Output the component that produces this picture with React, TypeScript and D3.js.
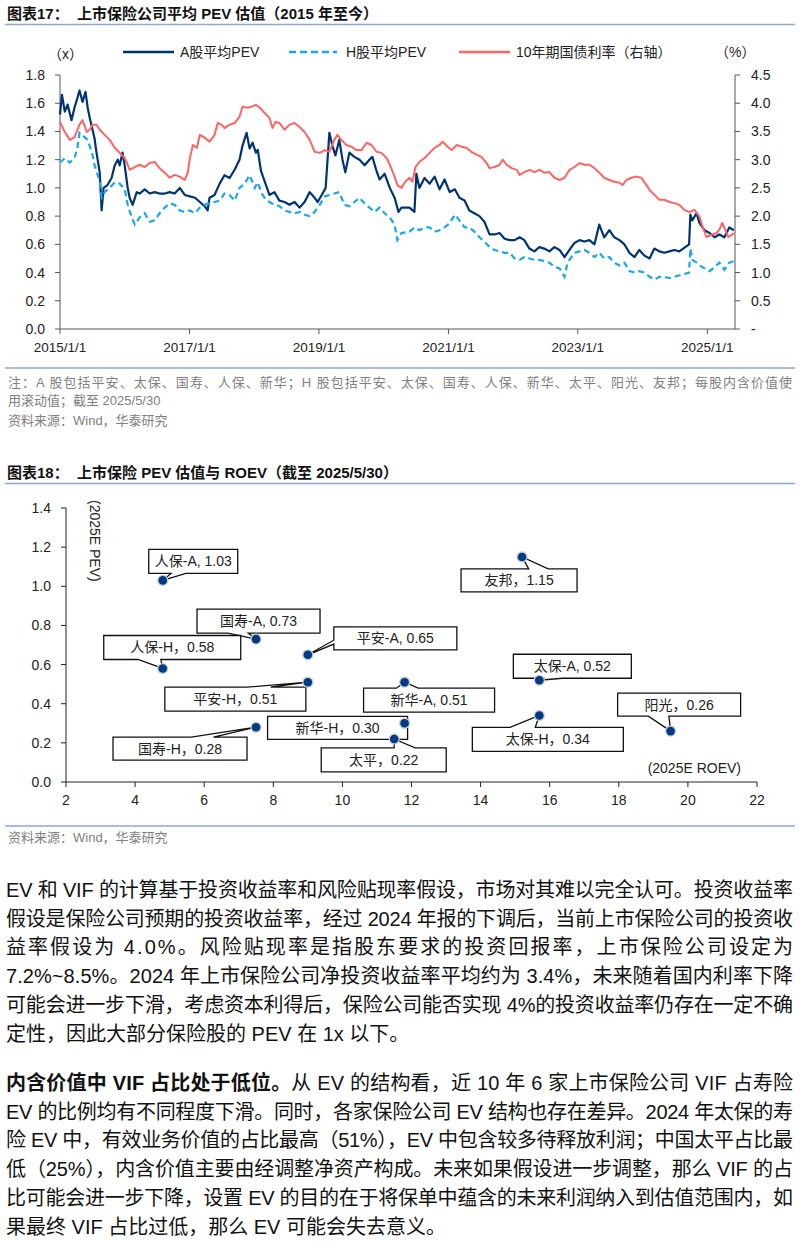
import React from 'react';
import * as d3 from 'd3';

// ---------- Chart 1 data ----------
const aDates = ['2015-01-01','2015-01-12','2015-01-28','2015-02-13','2015-03-07','2015-03-24','2015-04-10','2015-04-21','2015-05-08','2015-05-25','2015-06-06','2015-06-17','2015-07-04','2015-07-15','2015-07-26','2015-08-13','2015-08-24','2015-09-04','2015-09-26','2015-10-19','2015-11-06','2015-11-23','2015-12-04','2015-12-20','2016-01-01','2016-01-18','2016-01-29','2016-02-15','2016-03-09','2016-03-25','2016-04-23','2016-05-21','2016-06-18','2016-07-16','2016-08-14','2016-09-11','2016-10-09','2016-11-07','2016-12-05','2017-01-03','2017-02-01','2017-02-28','2017-03-27','2017-04-13','2017-04-24','2017-05-22','2017-06-20','2017-07-17','2017-08-15','2017-09-13','2017-10-10','2017-10-27','2017-11-19','2017-12-06','2017-12-23','2018-01-10','2018-01-21','2018-02-08','2018-02-28','2018-03-28','2018-04-25','2018-05-23','2018-06-21','2018-07-19','2018-08-17','2018-09-14','2018-10-12','2018-11-10','2018-12-08','2018-12-25','2019-01-17','2019-02-08','2019-03-01','2019-03-18','2019-04-04','2019-04-26','2019-05-14','2019-05-30','2019-06-22','2019-07-20','2019-08-18','2019-09-16','2019-10-13','2019-10-30','2019-11-22','2019-12-09','2020-01-07','2020-02-05','2020-03-03','2020-03-25','2020-04-11','2020-05-26','2020-06-23','2020-07-04','2020-07-21','2020-08-19','2020-09-17','2020-10-15','2020-11-12','2020-12-10','2021-01-08','2021-02-06','2021-03-04','2021-04-02','2021-04-29','2021-05-27','2021-06-25','2021-07-23','2021-08-21','2021-09-18','2021-10-16','2021-11-14','2021-12-12','2022-01-10','2022-02-07','2022-03-05','2022-04-03','2022-05-01','2022-05-29','2022-06-26','2022-07-25','2022-08-22','2022-09-20','2022-10-18','2022-11-15','2022-12-13','2023-01-11','2023-02-08','2023-03-07','2023-04-05','2023-05-02','2023-05-30','2023-06-28','2023-07-26','2023-08-24','2023-09-21','2023-10-19','2023-11-17','2023-12-14','2024-01-12','2024-02-10','2024-03-08','2024-04-05','2024-05-03','2024-06-01','2024-06-29','2024-07-27','2024-09-20','2024-09-27','2024-10-08','2024-11-01','2024-11-18','2024-12-16','2025-01-14','2025-02-11','2025-03-10','2025-04-07','2025-05-05','2025-05-30'];
const aValues = [1.52,1.66,1.54,1.59,1.48,1.57,1.64,1.69,1.61,1.68,1.57,1.50,1.41,1.35,1.25,1.11,0.84,1.00,1.02,1.07,1.16,1.20,1.16,1.25,1.16,1.00,0.93,0.88,0.97,0.96,0.99,0.96,0.97,0.96,0.96,0.97,0.96,1.00,0.95,0.94,0.93,0.90,0.87,0.84,0.93,0.95,1.03,1.09,1.07,1.13,1.20,1.30,1.39,1.28,1.32,1.25,1.27,1.12,1.05,0.95,0.97,0.91,0.90,0.88,0.90,0.86,0.90,0.97,0.93,0.90,0.95,1.00,1.39,1.30,1.23,1.34,1.20,1.11,1.25,1.22,1.20,1.16,1.20,1.22,1.12,1.06,1.10,1.00,0.93,0.83,0.86,0.86,0.83,1.10,1.00,1.07,1.03,1.08,0.99,1.06,0.97,0.99,0.93,0.91,0.84,0.82,0.80,0.76,0.67,0.67,0.68,0.64,0.63,0.63,0.65,0.63,0.57,0.55,0.58,0.57,0.55,0.58,0.56,0.51,0.56,0.61,0.63,0.62,0.63,0.60,0.74,0.65,0.70,0.65,0.63,0.60,0.54,0.51,0.56,0.52,0.50,0.57,0.55,0.54,0.55,0.56,0.55,0.60,0.81,0.77,0.82,0.75,0.70,0.68,0.65,0.67,0.65,0.72,0.70];

const hDates = ['2015-01-01','2015-01-28','2015-02-26','2015-03-24','2015-04-10','2015-04-21','2015-05-19','2015-06-06','2015-06-17','2015-07-04','2015-07-15','2015-08-02','2015-08-13','2015-08-24','2015-09-10','2015-10-08','2015-11-06','2015-12-04','2016-01-01','2016-01-18','2016-02-10','2016-02-27','2016-03-25','2016-04-23','2016-05-21','2016-06-18','2016-07-16','2016-08-14','2016-09-11','2016-10-09','2016-11-07','2016-12-05','2017-01-03','2017-02-01','2017-02-28','2017-03-27','2017-04-24','2017-05-22','2017-06-20','2017-07-17','2017-08-15','2017-09-13','2017-10-10','2017-11-08','2017-12-06','2018-01-04','2018-01-21','2018-02-13','2018-02-28','2018-03-28','2018-04-25','2018-05-23','2018-06-21','2018-07-19','2018-08-17','2018-09-14','2018-10-12','2018-11-10','2018-12-08','2019-01-06','2019-02-03','2019-03-01','2019-03-29','2019-04-26','2019-05-25','2019-06-22','2019-07-20','2019-08-18','2019-09-16','2019-10-13','2019-11-11','2019-12-09','2020-01-07','2020-02-05','2020-03-03','2020-03-19','2020-04-11','2020-05-26','2020-06-23','2020-07-21','2020-08-19','2020-09-17','2020-10-15','2020-11-12','2020-12-10','2021-01-08','2021-02-06','2021-03-04','2021-04-02','2021-04-29','2021-05-27','2021-06-25','2021-07-23','2021-08-21','2021-09-18','2021-10-16','2021-11-14','2021-12-12','2022-01-10','2022-02-07','2022-03-05','2022-04-03','2022-05-01','2022-05-29','2022-06-26','2022-07-25','2022-08-22','2022-09-20','2022-10-18','2022-11-04','2022-12-13','2023-01-11','2023-02-08','2023-03-07','2023-04-05','2023-05-02','2023-05-30','2023-06-28','2023-07-26','2023-08-24','2023-09-21','2023-10-19','2023-11-17','2023-12-14','2024-01-12','2024-02-10','2024-03-08','2024-04-05','2024-05-03','2024-06-01','2024-06-29','2024-09-20','2024-09-27','2024-10-08','2024-11-01','2024-11-18','2024-12-16','2025-01-14','2025-02-11','2025-03-10','2025-04-07','2025-05-05','2025-05-30'];
const hValues = [1.18,1.21,1.18,1.21,1.29,1.39,1.36,1.34,1.30,1.23,1.16,1.09,1.04,0.93,0.97,1.00,1.04,1.03,0.99,0.88,0.79,0.74,0.79,0.82,0.76,0.77,0.82,0.86,0.89,0.88,0.84,0.83,0.84,0.82,0.86,0.88,0.89,0.90,0.91,0.96,0.95,0.91,1.00,1.03,1.09,1.00,1.04,0.96,0.93,0.90,0.88,0.87,0.84,0.83,0.82,0.83,0.81,0.80,0.83,0.88,0.94,0.95,0.96,0.97,0.88,0.87,0.90,0.93,0.89,0.86,0.83,0.86,0.82,0.79,0.74,0.63,0.68,0.69,0.72,0.70,0.72,0.72,0.69,0.70,0.72,0.75,0.81,0.77,0.72,0.72,0.69,0.65,0.62,0.58,0.56,0.55,0.54,0.54,0.50,0.49,0.51,0.50,0.49,0.49,0.48,0.47,0.44,0.43,0.37,0.47,0.54,0.55,0.56,0.54,0.51,0.54,0.50,0.51,0.47,0.45,0.47,0.41,0.40,0.41,0.40,0.37,0.35,0.37,0.37,0.36,0.37,0.40,0.57,0.49,0.47,0.45,0.43,0.41,0.44,0.47,0.42,0.47,0.48];

const bondDates = ['2015-01-01','2015-01-28','2015-02-26','2015-03-24','2015-04-21','2015-05-08','2015-06-01','2015-06-17','2015-07-04','2015-07-26','2015-08-13','2015-09-10','2015-10-08','2015-11-06','2015-12-04','2016-01-01','2016-01-18','2016-01-29','2016-02-27','2016-03-25','2016-04-23','2016-05-21','2016-06-18','2016-07-16','2016-08-14','2016-09-11','2016-10-09','2016-11-07','2016-12-05','2016-12-22','2017-01-03','2017-01-20','2017-02-12','2017-02-28','2017-03-27','2017-04-24','2017-05-22','2017-06-09','2017-07-01','2017-07-17','2017-08-15','2017-09-13','2017-10-10','2017-10-27','2017-11-25','2017-12-17','2018-01-10','2018-02-02','2018-02-28','2018-03-28','2018-04-14','2018-05-01','2018-05-23','2018-06-21','2018-07-19','2018-08-17','2018-09-14','2018-10-12','2018-11-10','2018-12-08','2019-01-06','2019-02-03','2019-03-01','2019-03-29','2019-04-15','2019-05-08','2019-06-05','2019-07-03','2019-08-01','2019-08-29','2019-09-27','2019-10-25','2019-11-22','2019-12-20','2020-01-18','2020-02-05','2020-03-03','2020-03-19','2020-04-11','2020-04-28','2020-05-26','2020-06-12','2020-06-29','2020-07-21','2020-08-19','2020-09-17','2020-10-15','2020-11-12','2020-11-29','2020-12-27','2021-01-19','2021-02-17','2021-03-15','2021-04-13','2021-05-10','2021-06-08','2021-07-06','2021-08-04','2021-08-21','2021-09-18','2021-10-16','2021-11-03','2021-11-25','2021-12-23','2022-01-21','2022-02-07','2022-03-05','2022-04-03','2022-05-01','2022-05-29','2022-06-26','2022-07-25','2022-08-22','2022-09-20','2022-10-18','2022-11-15','2022-12-13','2023-01-11','2023-02-08','2023-03-07','2023-04-05','2023-05-02','2023-05-30','2023-06-28','2023-07-26','2023-08-24','2023-09-10','2023-10-02','2023-10-30','2023-11-28','2023-12-25','2024-01-23','2024-02-10','2024-03-08','2024-04-05','2024-05-03','2024-06-01','2024-06-29','2024-07-27','2024-08-24','2024-09-22','2024-10-20','2024-11-18','2024-12-05','2024-12-27','2025-01-25','2025-02-22','2025-03-10','2025-03-26','2025-04-12','2025-04-29','2025-05-21','2025-05-30'];
const bondValues = [3.67,3.49,3.35,3.40,3.62,3.70,3.49,3.53,3.62,3.62,3.53,3.44,3.35,3.21,3.12,3.03,2.91,2.82,2.87,2.91,2.87,2.94,2.96,2.85,2.77,2.68,2.73,2.70,2.64,2.77,3.03,3.26,3.21,3.44,3.39,3.32,3.44,3.65,3.62,3.56,3.62,3.65,3.76,3.94,3.92,3.94,3.97,3.92,3.83,3.74,3.56,3.67,3.65,3.53,3.62,3.65,3.58,3.49,3.35,3.14,3.12,3.17,3.14,3.35,3.44,3.35,3.26,3.23,3.17,3.17,3.30,3.26,3.14,3.12,3.03,2.91,2.70,2.55,2.50,2.59,2.68,2.61,2.87,2.96,3.03,3.12,3.21,3.26,3.32,3.23,3.17,3.26,3.23,3.21,3.14,3.09,3.05,2.94,2.85,2.87,2.91,3.00,2.91,2.85,2.82,2.73,2.78,2.82,2.78,2.82,2.77,2.78,2.68,2.64,2.68,2.82,2.87,2.94,2.91,2.91,2.85,2.77,2.68,2.64,2.61,2.59,2.55,2.64,2.68,2.70,2.68,2.55,2.46,2.38,2.29,2.29,2.25,2.23,2.20,2.11,2.07,2.11,1.99,1.81,1.63,1.67,1.70,1.76,1.88,1.76,1.63,1.67,1.70];

const xTickDates = ['2015-01-01','2017-01-01','2019-01-01','2021-01-01','2023-01-01','2025-01-01'];
const xTickLabels = ['2015/1/1','2017/1/1','2019/1/1','2021/1/1','2023/1/1','2025/1/1'];
const leftTicks = [0,0.2,0.4,0.6,0.8,1.0,1.2,1.4,1.6,1.8];
const rightTicks = [0,0.5,1.0,1.5,2.0,2.5,3.0,3.5,4.0,4.5];
const legendLabels = ['A股平均PEV','H股平均PEV','10年期国债利率（右轴）'];

// ---------- Chart 2 data ----------
const companies = ['人保-A','国寿-A','人保-H','平安-A','平安-H','新华-A','太保-A','友邦','阳光','太保-H','新华-H','太平','国寿-H'];
const roev = [4.8,7.5,4.8,9.0,9.0,11.8,15.7,15.2,19.5,15.7,11.8,11.5,7.5];
const pev = [1.03,0.73,0.58,0.65,0.51,0.51,0.52,1.15,0.26,0.34,0.30,0.22,0.28];
const seps = [', ',', ','，',', ','，',', ',', ','，','，','，','，','，','，'];
const scatterXTicks = [2,4,6,8,10,12,14,16,18,20,22];
const scatterYTicks = [0,0.2,0.4,0.6,0.8,1.0,1.2,1.4];

// callout box layout (pixel offsets from the point)
const calloutLayout = [
  { dx: -14, dy: -31, w: 89, h: 24, edge: 'bottom' },
  { dx: -59, dy: -30, w: 123, h: 24, edge: 'bottom' },
  { dx: -59, dy: -33, w: 137, h: 24, edge: 'bottom' },
  { dx: 26, dy: -28, w: 123, h: 23, edge: 'left' },
  { dx: -143, dy: 5, w: 141, h: 24, edge: 'top' },
  { dx: -41, dy: 6, w: 131, h: 24, edge: 'top' },
  { dx: -26, dy: -26, w: 118, h: 24, edge: 'bottom' },
  { dx: -61, dy: 12, w: 116, h: 23, edge: 'top' },
  { dx: -53, dy: -38, w: 123, h: 23, edge: 'bottom' },
  { dx: -67, dy: 12, w: 151, h: 24, edge: 'top' },
  { dx: -137, dy: -7, w: 140, h: 23, edge: 'none' },
  { dx: -73, dy: 9, w: 125, h: 24, edge: 'top' },
  { dx: -143, dy: 10, w: 134, h: 23, edge: 'top' },
];

// ---------- Text ----------
const title1 = '图表17：  上市保险公司平均 PEV 估值（2015 年至今）';
const title2 = '图表18：  上市保险 PEV 估值与 ROEV（截至 2025/5/30）';
const noteLines = [
  '注：A 股包括平安、太保、国寿、人保、新华；H 股包括平安、太保、国寿、人保、新华、太平、阳光、友邦；每股内含价值使',
  '用滚动值；截至 2025/5/30',
];
const sourceText = '资料来源：Wind，华泰研究';
const para1 = [
  'EV 和 VIF 的计算基于投资收益率和风险贴现率假设，市场对其难以完全认可。投资收益率',
  '假设是保险公司预期的投资收益率，经过 2024 年报的下调后，当前上市保险公司的投资收',
  '益率假设为 4.0%。风险贴现率是指股东要求的投资回报率，上市保险公司设定为',
  '7.2%~8.5%。2024 年上市保险公司净投资收益率平均约为 3.4%，未来随着国内利率下降',
  '可能会进一步下滑，考虑资本利得后，保险公司能否实现 4%的投资收益率仍存在一定不确',
  '定性，因此大部分保险股的 PEV 在 1x 以下。',
];
const para2Bold = '内含价值中 VIF 占比处于低位。';
const para2 = [
  '从 EV 的结构看，近 10 年 6 家上市保险公司 VIF 占寿险',
  'EV 的比例均有不同程度下滑。同时，各家保险公司 EV 结构也存在差异。2024 年太保的寿',
  '险 EV 中，有效业务价值的占比最高（51%），EV 中包含较多待释放利润；中国太平占比最',
  '低（25%），内含价值主要由经调整净资产构成。未来如果假设进一步调整，那么 VIF 的占',
  '比可能会进一步下降，设置 EV 的目的在于将保单中蕴含的未来利润纳入到估值范围内，如',
  '果最终 VIF 占比过低，那么 EV 可能会失去意义。',
];

const FONT = '"Liberation Sans", Arial, "Noto Sans CJK SC", sans-serif';
const parse = d3.timeParse('%Y-%m-%d');
const C_A = '#003372';
const C_H = '#1aa6e8';
const C_R = '#ff6464';
const RULE = '#8fa9d4';

function calloutPath(l: number, t: number, w: number, h: number, px: number, py: number, edge: string) {
  const r = l + w, b = t + h;
  const cx = l + w / 2, cy = t + h / 2;
  if (edge === 'bottom' || edge === 'top') {
    const f = px < cx ? [3 / 12, 5 / 12] : [7 / 12, 9 / 12];
    const b1 = l + w * f[0], b2 = l + w * f[1];
    if (edge === 'bottom') return `M${l},${t}L${r},${t}L${r},${b}L${b2},${b}L${px},${py}L${b1},${b}L${l},${b}Z`;
    return `M${l},${t}L${b1},${t}L${px},${py}L${b2},${t}L${r},${t}L${r},${b}L${l},${b}Z`;
  }
  if (edge === 'left' || edge === 'right') {
    const f = py < cy ? [3 / 12, 5 / 12] : [7 / 12, 9 / 12];
    const b1 = t + h * f[0], b2 = t + h * f[1];
    if (edge === 'left') return `M${l},${t}L${r},${t}L${r},${b}L${l},${b}L${l},${b2}L${px},${py}L${l},${b1}Z`;
    return `M${l},${t}L${r},${t}L${r},${b1}L${px},${py}L${r},${b2}L${r},${b}L${l},${b}Z`;
  }
  return `M${l},${t}L${r},${t}L${r},${b}L${l},${b}Z`;
}

function LineChart() {
  const x = d3.scaleTime().domain([parse('2015-01-01')!, parse('2025-06-06')!]).range([60, 735]);
  const yL = d3.scaleLinear().domain([0, 1.8]).range([329, 75]);
  const yR = d3.scaleLinear().domain([0, 4.5]).range([329, 75]);
  const mk = (ds: string[], vs: number[]) => ds.map((d, i) => [parse(d)!, vs[i]] as [Date, number]);
  const lineL = d3.line<[Date, number]>().x(d => x(d[0])).y(d => yL(d[1]));
  const lineR = d3.line<[Date, number]>().x(d => x(d[0])).y(d => yR(d[1]));
  const axisColor = '#555';
  return (
    <g fontFamily={FONT}>
      {/* legend */}
      <text x={48} y={59} fontSize={14} fill="#222">（x）</text>
      <line x1={123} x2={174} y1={52} y2={52} stroke={C_A} strokeWidth={2.5} />
      <text x={180} y={57} fontSize={14} fill="#222">{legendLabels[0]}</text>
      <line x1={289} x2={337} y1={52} y2={52} stroke={C_H} strokeWidth={2.5} strokeDasharray="7,4" />
      <text x={346} y={57} fontSize={14} fill="#222">{legendLabels[1]}</text>
      <line x1={459} x2={510} y1={52} y2={52} stroke={C_R} strokeWidth={2.5} />
      <text x={516} y={57} fontSize={14} fill="#222">{legendLabels[2]}</text>
      <text x={715} y={57} fontSize={14} fill="#222">（%）</text>

      {/* axes */}
      <line x1={60} x2={60} y1={75} y2={329} stroke={axisColor} />
      <line x1={735} x2={735} y1={75} y2={329} stroke={axisColor} />
      <line x1={60} x2={735} y1={329} y2={329} stroke={axisColor} />
      {leftTicks.map(t => (
        <g key={'l' + t}>
          <line x1={55} x2={60} y1={yL(t)} y2={yL(t)} stroke={axisColor} />
          <text x={45} y={yL(t) + 5} fontSize={14} textAnchor="end" fill="#222">{t.toFixed(1)}</text>
        </g>
      ))}
      {rightTicks.map(t => (
        <g key={'r' + t}>
          <line x1={735} x2={740} y1={yR(t)} y2={yR(t)} stroke={axisColor} />
          <text x={751} y={yR(t) + 5} fontSize={14} textAnchor="start" fill="#222">{t === 0 ? '-' : t.toFixed(1)}</text>
        </g>
      ))}
      {xTickDates.map((d, i) => (
        <g key={d}>
          <line x1={x(parse(d)!)} x2={x(parse(d)!)} y1={329} y2={334} stroke={axisColor} />
          <text x={x(parse(d)!)} y={352} fontSize={13.5} textAnchor="middle" fill="#222">{xTickLabels[i]}</text>
        </g>
      ))}

      {/* series */}
      <path d={lineL(mk(aDates, aValues))!} fill="none" stroke={C_A} strokeWidth={2.2} strokeLinejoin="round" />
      <path d={lineL(mk(hDates, hValues))!} fill="none" stroke={C_H} strokeWidth={2.2} strokeDasharray="6,4" />
      <path d={lineR(mk(bondDates, bondValues))!} fill="none" stroke={C_R} strokeWidth={2} strokeLinejoin="round" />
    </g>
  );
}

function ScatterChart() {
  const x = d3.scaleLinear().domain([2, 22]).range([66, 757]);
  const y = d3.scaleLinear().domain([0, 1.4]).range([782, 508]);
  const pts = companies.map((c, i) => ({ name: c, px: x(roev[i]), py: y(pev[i]), label: c + seps[i] + pev[i].toFixed(2), lay: calloutLayout[i] }));
  return (
    <g fontFamily={FONT}>
      <line x1={66} x2={66} y1={508} y2={782} stroke="#222" />
      <line x1={66} x2={757} y1={782} y2={782} stroke="#222" />
      {scatterYTicks.map(t => (
        <g key={'y' + t}>
          <line x1={61} x2={66} y1={y(t)} y2={y(t)} stroke="#222" />
          <text x={51} y={y(t) + 5} fontSize={14} textAnchor="end" fill="#222">{t.toFixed(1)}</text>
        </g>
      ))}
      {scatterXTicks.map(t => (
        <g key={'x' + t}>
          <line x1={x(t)} x2={x(t)} y1={782} y2={787} stroke="#222" />
          <text x={x(t)} y={805} fontSize={14} textAnchor="middle" fill="#222">{t}</text>
        </g>
      ))}
      <text transform="translate(90,500) rotate(90)" fontSize={14} fill="#222">(2025E PEV)</text>
      <text x={741} y={773} fontSize={14} textAnchor="end" fill="#222">(2025E ROEV)</text>
      {pts.map(p => {
        const l = p.px + p.lay.dx, t = p.py + p.lay.dy;
        return (
          <g key={p.name}>
            <path d={calloutPath(l, t, p.lay.w, p.lay.h, p.px, p.py, p.lay.edge)} fill="#fff" stroke="#111" strokeWidth={1.3} />
            <text x={l + p.lay.w / 2} y={t + p.lay.h / 2 + 5} fontSize={14} textAnchor="middle" fill="#222">{p.label}</text>
          </g>
        );
      })}
      {pts.map(p => (
        <g key={'d' + p.name}>
          <circle cx={p.px} cy={p.py} r={5.6} fill="#c5ccd8" />
          <circle cx={p.px} cy={p.py} r={4.3} fill="#003a80" />
        </g>
      ))}
    </g>
  );
}

export default function App() {
  const lineH = 28.7;
  return (
    <div style={{ position: 'absolute', left: 0, top: 0, background: '#fff' }}>
      <svg width={800} height={1241} viewBox="0 0 800 1241" style={{ display: 'block', background: '#fff' }}>
        {/* Chart 1 header */}
        <text x={7} y={19} fontFamily={FONT} fontSize={15} fontWeight="bold" fill="#111" xmlSpace="preserve">{title1}</text>
        <line x1={5} x2={795} y1={24.5} y2={24.5} stroke={RULE} strokeWidth={1.3} />
        <LineChart />
        <line x1={5} x2={795} y1={368} y2={368} stroke={RULE} strokeWidth={1.3} />
        <text x={8} y={387} fontFamily={FONT} fontSize={13} fill="#808080" textLength={784} lengthAdjust="spacing">{noteLines[0]}</text>
        <text x={8} y={405} fontFamily={FONT} fontSize={13} fill="#808080">{noteLines[1]}</text>
        <text x={8} y={425} fontFamily={FONT} fontSize={13} fill="#808080">{sourceText}</text>

        {/* Chart 2 header */}
        <text x={7} y={478} fontFamily={FONT} fontSize={15} fontWeight="bold" fill="#111" xmlSpace="preserve">{title2}</text>
        <line x1={5} x2={795} y1={483.5} y2={483.5} stroke={RULE} strokeWidth={1.3} />
        <ScatterChart />
        <line x1={5} x2={795} y1={826} y2={826} stroke={RULE} strokeWidth={1.3} />
        <text x={8} y={842} fontFamily={FONT} fontSize={13} fill="#808080">{sourceText}</text>

        {/* Body text */}
        {para1.map((s, i) => (
          <text key={'p1' + i} x={6} y={897 + i * lineH} fontFamily={FONT} fontSize={20} fill="#111"
            {...(i < para1.length - 1 ? { textLength: 787, lengthAdjust: 'spacing' } : {})}>{s}</text>
        ))}
        {para2.map((s, i) => (
          <text key={'p2' + i} x={6} y={1090 + i * lineH} fontFamily={FONT} fontSize={20} fill="#111"
            {...(i < para2.length - 1 ? { textLength: 787, lengthAdjust: 'spacing' } : {})}>
            {i === 0 ? <tspan fontWeight="bold">{para2Bold}</tspan> : null}
            <tspan>{s}</tspan>
          </text>
        ))}
      </svg>
    </div>
  );
}
